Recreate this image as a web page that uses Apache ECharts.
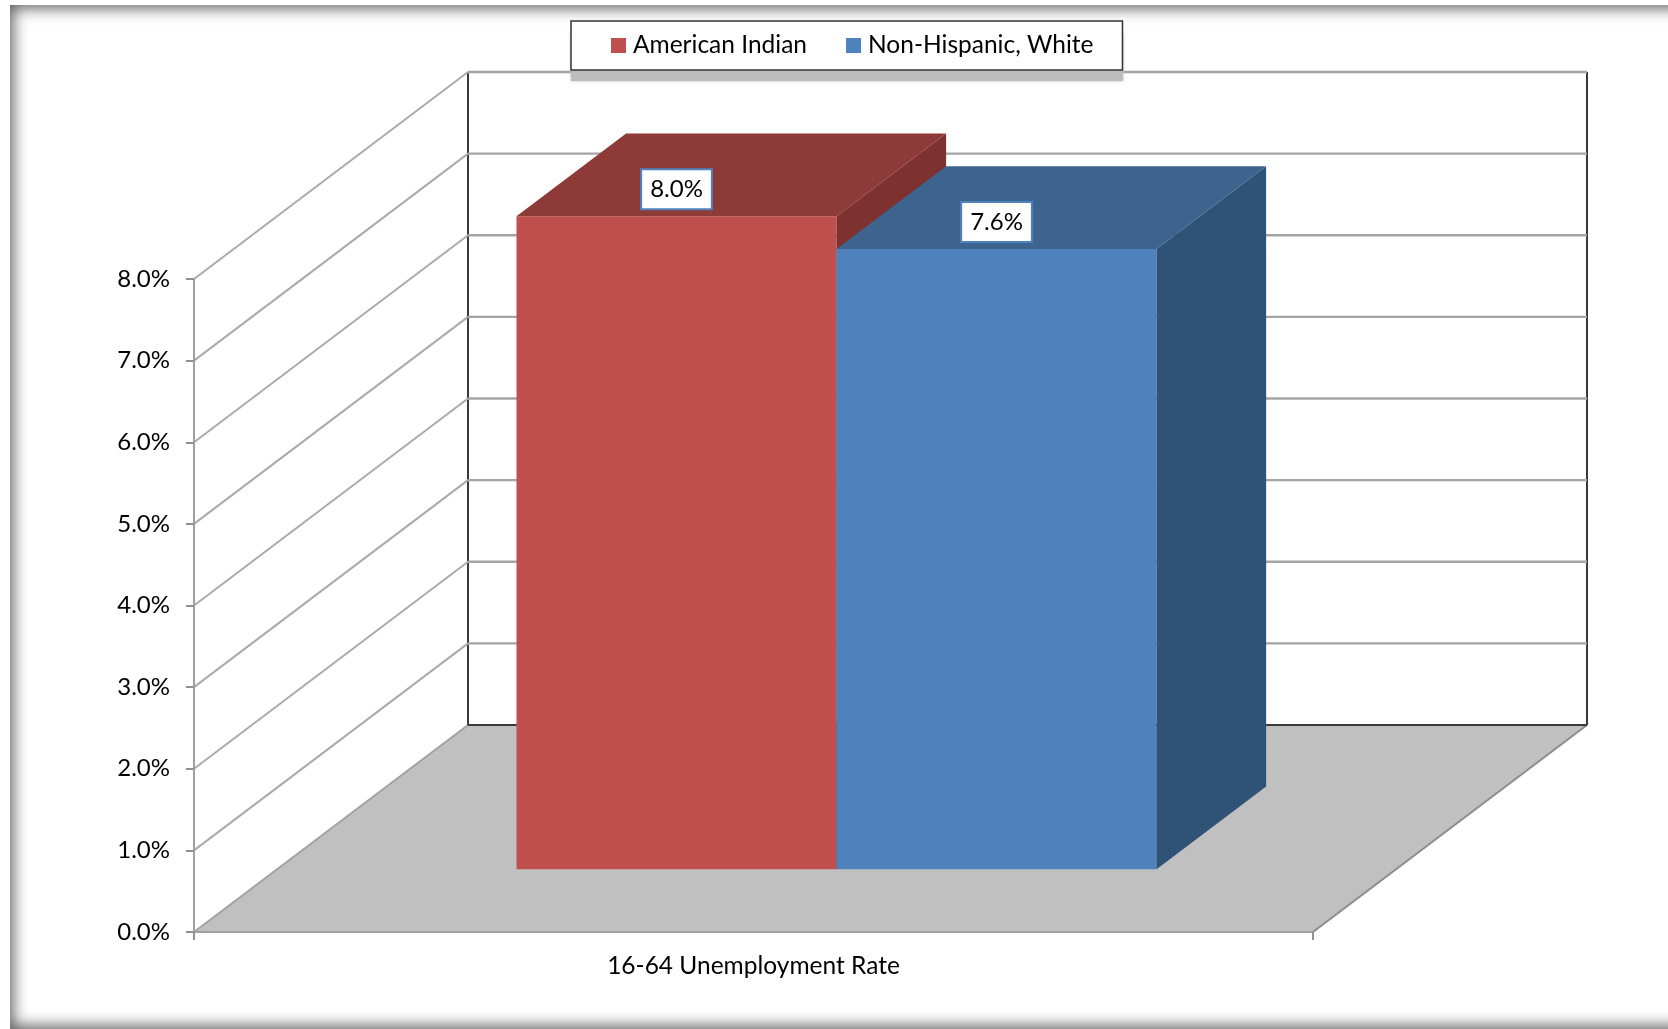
<!DOCTYPE html>
<html>
<head>
<meta charset="utf-8">
<script src="https://cdn.jsdelivr.net/npm/echarts@6/dist/echarts.min.js"></script>
<style>
html,body{margin:0;padding:0;background:#fff;width:1668px;height:1029px;overflow:hidden}
#frame{position:absolute;left:10px;top:5px;width:1700px;height:1024px;background:#fff;box-shadow:inset 0 0 15px 3px #5c5c5c}
#chart{position:absolute;left:0;top:0;width:1668px;height:1029px}
</style>
</head>
<body>
<div id="frame"></div>
<div id="chart"></div>
<script>
const categories = ['16-64 Unemployment Rate'];
const americanIndian = [8.0];
const nonHispanicWhite = [7.6];
const yTicks = [0, 1, 2, 3, 4, 5, 6, 7, 8];

const FONT = 'Lato';
const FONT_SIZE = 24;
const DEPTH_X = 274, DEPTH_Y = 207;
const BAR_FRONT = 0.303, BAR_BACK = 0.703, BAR_WIDTH = 0.286;

function lineEl(a, b, color, width) {
  return { type: 'line', shape: { x1: a[0], y1: a[1], x2: b[0], y2: b[1] },
           style: { stroke: color, lineWidth: width }, silent: true };
}
function polyEl(points, color) {
  return { type: 'polygon', shape: { points }, style: { fill: color }, silent: true };
}
function shift(p, d) { return [p[0] + d * DEPTH_X, p[1] - d * DEPTH_Y]; }

function renderWalls(params, api) {
  const tick = api.value(1);
  const c = api.coord([0, tick]);
  const band = api.size([1, 0])[0];
  const L = [c[0] - band / 2, c[1]], R = [c[0] + band / 2, c[1]];
  const children = [];
  if (tick === yTicks[0]) {
    const topBack = api.coord([0, yTicks[yTicks.length - 1]]);
    const bl = shift(L, 1), br = shift(R, 1);
    const tl = shift([L[0], topBack[1]], 1), tr = shift([R[0], topBack[1]], 1);
    children.push(polyEl([L, R, br, bl], '#c0c0c0'));
    children.push(lineEl(L, bl, '#a0a0a0', 1.8));
    children.push(lineEl(R, br, '#8c8c8c', 2));
    children.push(lineEl(bl, br, '#3a3a3a', 2));
    children.push(lineEl(bl, tl, '#3a3a3a', 2));
    children.push(lineEl(br, tr, '#3a3a3a', 2));
  } else {
    children.push(lineEl(L, shift(L, 1), '#aaaaaa', 2));
    children.push(lineEl(shift(L, 1), shift(R, 1), '#a4a4a4', 2.4));
  }
  return { type: 'group', children };
}

function barRenderer(sign, front, top, side) {
  return function (params, api) {
    const v = api.value(1);
    const base = api.coord([0, 0]);
    const head = api.coord([0, v]);
    const w = api.size([1, 0])[0] * BAR_WIDTH;
    const x0 = sign < 0 ? base[0] - w : base[0];
    const x1 = x0 + w;
    const fbl = shift([x0, base[1]], BAR_FRONT), fbr = shift([x1, base[1]], BAR_FRONT);
    const ftl = shift([x0, head[1]], BAR_FRONT), ftr = shift([x1, head[1]], BAR_FRONT);
    const d = BAR_BACK - BAR_FRONT;
    const btl = shift(ftl, d), btr = shift(ftr, d), bbr = shift(fbr, d);
    return { type: 'group', children: [
      polyEl([ftl, ftr, fbr, fbl], front),
      polyEl([ftl, ftr, btr, btl], top),
      polyEl([ftr, btr, bbr, fbr], side),
      { type: 'text', silent: true, z2: 10, style: {
          text: v.toFixed(1) + '%', x: (ftl[0] + ftr[0]) / 2, y: ftl[1] - 27,
          align: 'center', verticalAlign: 'middle',
          fontFamily: FONT, fontSize: FONT_SIZE, fill: '#000',
          backgroundColor: '#fff', borderColor: '#4f81bd', borderWidth: 2,
          padding: [7, 8, 7, 8] } }
    ] };
  };
}

const chart = echarts.init(document.getElementById('chart'), null, { renderer: 'canvas' });
chart.setOption({
  animation: false,
  textStyle: { fontFamily: FONT },
  graphic: [{
    type: 'rect', z: 3.5, silent: true,
    shape: { x: 571, y: 33, width: 552, height: 48 },
    style: { fill: '#bdbdbd', shadowBlur: 3, shadowColor: '#bdbdbd' }
  }],
  legend: {
    data: ['American Indian', 'Non-Hispanic, White'],
    left: 571, top: 21, z: 4, selectedMode: false,
    orient: 'horizontal', icon: 'rect', itemWidth: 15, itemHeight: 15, itemGap: 39,
    padding: [12, 29, 12, 40],
    backgroundColor: '#fff', borderColor: '#333', borderWidth: 1.5,
    textStyle: { fontFamily: FONT, fontSize: 24.5, color: '#000', padding: [0, 0, 0, 2] }
  },
  grid: { left: 194, top: 279, width: 1119, height: 653 },
  xAxis: {
    type: 'category', data: categories, z: 5,
    axisLine: { lineStyle: { color: '#a0a0a0', width: 2 } },
    axisTick: { show: true, length: 8, alignWithLabel: false, lineStyle: { color: '#909090', width: 2 } },
    axisLabel: { fontFamily: FONT, fontSize: 24.5, color: '#000', margin: 22 }
  },
  yAxis: {
    type: 'value', min: 0, max: 8, interval: 1, z: 5,
    splitLine: { show: false },
    axisLine: { show: true, lineStyle: { color: '#a0a0a0', width: 2 } },
    axisTick: { show: true, length: 8, lineStyle: { color: '#909090', width: 2 } },
    axisLabel: { fontFamily: FONT, fontSize: FONT_SIZE, color: '#000', margin: 24,
                 padding: [3, 0, 0, 0],
                 formatter: v => v.toFixed(1) + '%' }
  },
  series: [
    { type: 'custom', name: 'walls', silent: true, z: 1, renderItem: renderWalls,
      data: yTicks.map(t => [0, t]) },
    { type: 'custom', name: 'American Indian', z: 2, silent: true,
      itemStyle: { color: '#c0504d' },
      renderItem: barRenderer(-1, '#c0504d', '#8e3a38', '#7d3230'),
      data: americanIndian.map((v, i) => [i, v]) },
    { type: 'custom', name: 'Non-Hispanic, White', z: 3, silent: true,
      itemStyle: { color: '#4f81bd' },
      renderItem: barRenderer(1, '#4f81bd', '#3d638f', '#2f5277'),
      data: nonHispanicWhite.map((v, i) => [i, v]) }
  ]
});
</script>
</body>
</html>
